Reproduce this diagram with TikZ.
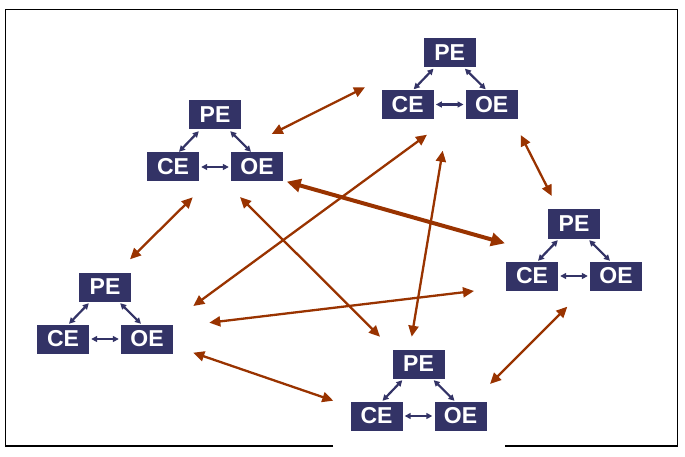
\documentclass[tikz,border=0pt]{standalone}
\usepackage{fontspec}
\setmainfont{Liberation Sans}
\usetikzlibrary{arrows.meta}
\definecolor{navy}{HTML}{333366}
\definecolor{rust}{HTML}{993300}
\newcommand\trio[3]{%
  \node[box] (#1pe) at (#2,#3) {PE};
  \node[box] (#1ce) at (#2-42,#3+52) {CE};
  \node[box] (#1oe) at (#2+42,#3+52) {OE};
  \draw[inner] ([xshift=10pt,yshift=-1.5pt]#1pe.south west) -- ([xshift=6pt,yshift=0.5pt]#1ce.north);
  \draw[inner] ([xshift=-11pt,yshift=-1.5pt]#1pe.south east) -- ([xshift=-6pt,yshift=0.5pt]#1oe.north);
  \draw[inner] ([xshift=2pt]#1ce.east) -- ([xshift=-2pt]#1oe.west);
}
\begin{document}
\begin{tikzpicture}[x=1pt,y=-1pt,
  box/.style={fill=navy, text=white, font=\bfseries\fontsize{23}{23}\selectfont,
    minimum width=52pt, minimum height=29pt, inner sep=0pt},
  inner/.style={navy, line width=2.2pt,
    {Triangle[length=6pt,width=6pt]}-{Triangle[length=6pt,width=6pt]}},
  link/.style={rust, line width=2.3pt,
    {Triangle[length=11pt,width=10pt]}-{Triangle[length=11pt,width=10pt]}},
  biglink/.style={rust, line width=4pt,
    {Triangle[length=14pt,width=13pt]}-{Triangle[length=14pt,width=13pt]}},
  frame/.style={black, line width=1.3pt}]
\useasboundingbox (0,0) rectangle (685,457);
\coordinate (fa) at (333,446);
\coordinate (fb) at (5.5,446);
\coordinate (fc) at (5.5,9.5);
\coordinate (fd) at (677.5,9.5);
\coordinate (fe) at (677.5,446);
\coordinate (ff) at (505,446);
\draw[frame] (fa) -- (fb) -- (fc) -- (fd) -- (fe) -- (ff);

\trio{A}{449.7}{52.5}
\trio{B}{215}{115}
\trio{C}{574}{224}
\trio{D}{105}{287}
\trio{E}{418.5}{364}

\coordinate (l1a) at (271.7,134);   \coordinate (l1b) at (365,87.3);
\coordinate (l2a) at (192.7,197.3); \coordinate (l2b) at (130,259.3);
\coordinate (l3a) at (286.7,181.7); \coordinate (l3b) at (505,243.3);
\coordinate (l4a) at (240,197);     \coordinate (l4b) at (380,336.7);
\coordinate (l5a) at (427,134.7);   \coordinate (l5b) at (193.3,306);
\coordinate (l6a) at (209.3,322.7); \coordinate (l6b) at (474,291);
\coordinate (l7a) at (193.3,352.7); \coordinate (l7b) at (333.3,400.7);
\coordinate (l8a) at (442.7,150.7); \coordinate (l8b) at (411.7,336.7);
\coordinate (l9a) at (567.3,306.7); \coordinate (l9b) at (490,384);
\coordinate (l10a) at (520.7,135);  \coordinate (l10b) at (551.7,196);

\draw[link] (l1a) -- (l1b);
\draw[link] (l2a) -- (l2b);
\draw[biglink] (l3a) -- (l3b);
\draw[link] (l4a) -- (l4b);
\draw[link] (l5a) -- (l5b);
\draw[link] (l6a) -- (l6b);
\draw[link] (l7a) -- (l7b);
\draw[link] (l8a) -- (l8b);
\draw[link] (l9a) -- (l9b);
\draw[link] (l10a) -- (l10b);
\end{tikzpicture}
\end{document}
